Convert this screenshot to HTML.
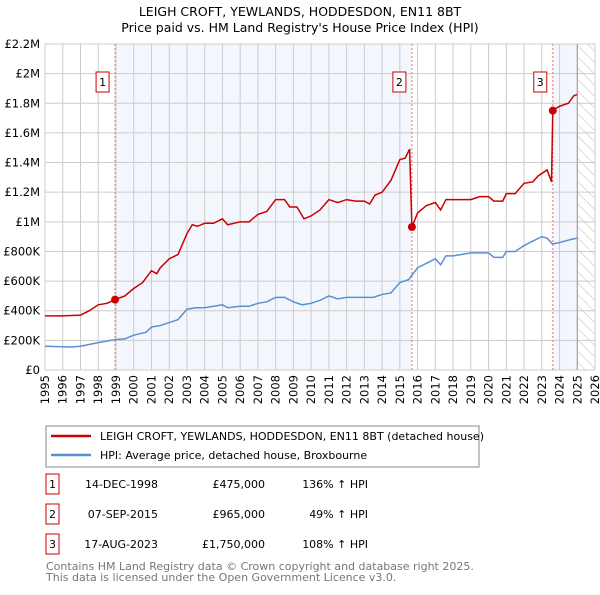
<!DOCTYPE html>
<html><head><meta charset="utf-8"><style>
body{margin:0;background:#fff;font-family:"Liberation Sans","DejaVu Sans",sans-serif;}
svg text{font-family:"DejaVu Sans","Liberation Sans",sans-serif;}
</style></head><body>
<svg id="chart" width="600" height="590" xmlns="http://www.w3.org/2000/svg">
<defs><pattern id="hatch" patternUnits="userSpaceOnUse" width="8" height="8" patternTransform="rotate(-45)"><line x1="0" y1="0" x2="0" y2="8" stroke="#bbb" stroke-width="1"/></pattern></defs>
<text x="300" y="16" text-anchor="middle" font-size="12.5">LEIGH CROFT, YEWLANDS, HODDESDON, EN11 8BT</text>
<text x="300" y="32" text-anchor="middle" font-size="12.5">Price paid vs. HM Land Registry's House Price Index (HPI)</text>
<g id="plot"></g>
<rect x="46" y="426" width="433" height="41" fill="#fff" stroke="#888"/>
<line x1="51" y1="436" x2="91" y2="436" stroke="#cc0000" stroke-width="2.5"/>
<text x="100" y="440" font-size="11">LEIGH CROFT, YEWLANDS, HODDESDON, EN11 8BT (detached house)</text>
<line x1="51" y1="455" x2="91" y2="455" stroke="#5b8fd4" stroke-width="2.5"/>
<text x="100" y="459" font-size="11">HPI: Average price, detached house, Broxbourne</text>
<g id="table" font-size="11"></g>
<text x="46" y="570" font-size="11" fill="#777">Contains HM Land Registry data © Crown copyright and database right 2025.</text>
<text x="46" y="581" font-size="11" fill="#777">This data is licensed under the Open Government Licence v3.0.</text>
</svg>
<script>
const yearTicks=[1995,1996,1997,1998,1999,2000,2001,2002,2003,2004,2005,2006,2007,2008,2009,2010,2011,2012,2013,2014,2015,2016,2017,2018,2019,2020,2021,2022,2023,2024,2025,2026];
const valueTicks=[0,200000,400000,600000,800000,1000000,1200000,1400000,1600000,1800000,2000000,2200000];
const valueTickLabels=["£0","£200K","£400K","£600K","£800K","£1M","£1.2M","£1.4M","£1.6M","£1.8M","£2M","£2.2M"];
const redYears=[1995,1996,1997,1997.5,1998,1998.5,1998.95,1999.5,2000,2000.5,2001,2001.3,2001.5,2002,2002.5,2003,2003.3,2003.6,2004,2004.5,2005,2005.3,2006,2006.5,2007,2007.5,2008,2008.5,2008.8,2009.2,2009.6,2010,2010.5,2011,2011.5,2012,2012.5,2013,2013.3,2013.6,2014,2014.5,2015,2015.3,2015.55,2015.68,2016,2016.5,2017,2017.3,2017.6,2018,2018.5,2019,2019.5,2020,2020.3,2020.8,2021,2021.5,2022,2022.5,2022.8,2023.3,2023.55,2023.62,2024,2024.5,2024.8,2025];
const redValues=[365,365,370,400,440,450,475,500,550,590,670,650,690,750,780,920,980,970,990,990,1020,980,1000,1000,1050,1070,1150,1150,1100,1100,1020,1040,1080,1150,1130,1150,1140,1140,1120,1180,1200,1280,1420,1430,1490,965,1060,1110,1130,1080,1150,1150,1150,1150,1170,1170,1140,1140,1190,1190,1260,1270,1310,1350,1270,1750,1780,1800,1850,1860];
const hpiYears=[1995,1996.5,1997,1998,1998.95,1999.5,2000,2000.7,2001,2001.5,2002,2002.5,2003,2003.5,2004,2005,2005.3,2006,2006.5,2007,2007.5,2008,2008.5,2009,2009.5,2010,2010.5,2011,2011.5,2012,2013,2013.5,2014,2014.5,2015,2015.5,2016,2016.5,2017,2017.3,2017.6,2018,2019,2020,2020.3,2020.8,2021,2021.5,2022,2022.5,2023,2023.3,2023.6,2024,2024.6,2025];
const hpiValues=[160,155,160,185,205,210,235,255,290,300,320,340,410,420,420,440,420,430,430,450,460,490,490,460,440,450,470,500,480,490,490,490,510,520,590,610,690,720,750,710,770,770,790,790,760,760,800,800,840,870,900,890,850,860,880,890];
const saleIds=["1","2","3"];
const saleYears=[1998.95,2015.68,2023.62];
const saleValues=[475000,965000,1750000];
const saleDates=["14-DEC-1998","07-SEP-2015","17-AUG-2023"];
const salePrices=["£475,000","£965,000","£1,750,000"];
const saleHpi=["136% ↑ HPI","49% ↑ HPI","108% ↑ HPI"];

const NS="http://www.w3.org/2000/svg";
const L=45,R=595,T=44,B=370;
const x=y=>L+(y-1995)/(2026-1995)*(R-L);
const yv=v=>B-v/2200000*(B-T);
const plot=document.getElementById('plot');
function mk(tag,attrs,parent){const e=document.createElementNS(NS,tag);for(const k in attrs)e.setAttribute(k,attrs[k]);(parent||plot).appendChild(e);return e;}
let e;
e=mk('rect',{x:L,y:T,width:R-L,height:B-T,fill:'#fff'});


e=mk('rect',{x:x(saleYears[0]),y:T,width:x(saleYears[1])-x(saleYears[0]),height:B-T,fill:'#f3f7fd'});


e=mk('rect',{x:x(saleYears[2]),y:T,width:x(2025)-x(saleYears[2]),height:B-T,fill:'#f3f7fd'});


e=mk('rect',{x:x(2025),y:T,width:x(2026)-x(2025),height:B-T,fill:'url(#hatch)'});


yearTicks.forEach(yr=>{
 e=mk('line',{x1:x(yr),x2:x(yr),y1:T,y2:B,stroke:'#ccc','stroke-width':1});
 
 
 const tx=x(yr)+4, ty=B+5;
 e=mk('text',{x:tx,y:ty,'text-anchor':'end','font-size':11.5,transform:'rotate(-90 '+tx+' '+ty+')'});
 e.textContent=yr;
 
 
});
valueTicks.forEach((v,i)=>{
 e=mk('line',{x1:L,x2:R,y1:yv(v),y2:yv(v),stroke:'#ccc','stroke-width':1});
 
 
 e=mk('text',{x:L-5,y:yv(v)+4,'text-anchor':'end','font-size':11.5});
 e.textContent=valueTickLabels[i];
 
 
});
e=mk('line',{x1:x(2025),x2:x(2025),y1:T,y2:B,stroke:'#999','stroke-width':1});


saleYears.forEach((sy,i)=>{
 e=mk('line',{x1:x(sy),x2:x(sy),y1:T,y2:B,stroke:'#f07070','stroke-width':1,'stroke-dasharray':'2,2'});
 
 
 e=mk('rect',{x:x(sy)-19,y:72,width:13,height:20,fill:'#fff',stroke:'#cc0000'});
 
 
 e=mk('text',{x:x(sy)-12.5,y:86,'text-anchor':'middle','font-size':11});
 e.textContent=saleIds[i];
 
 
});
e=mk('polyline',{points:hpiYears.map((yr,i)=>x(yr)+','+yv(hpiValues[i]*1000)).join(' '),fill:'none',stroke:'#5b8fd4','stroke-width':1.5});


e=mk('polyline',{points:redYears.map((yr,i)=>x(yr)+','+yv(redValues[i]*1000)).join(' '),fill:'none',stroke:'#cc0000','stroke-width':1.5});


saleYears.forEach((sy,i)=>{
 e=mk('circle',{cx:x(sy),cy:yv(saleValues[i]),r:4,fill:'#cc0000'});
 
 
});
const tbl=document.getElementById('table');
saleIds.forEach((id,i)=>{
 const cy=487+i*30;
 e=mk('rect',{x:46,y:cy-13,width:13,height:20,fill:'#fff',stroke:'#cc0000'},tbl);
 
 
 const cells=[[52.5,'middle',id],[158,'end',saleDates[i]],[265,'end',salePrices[i]],[368,'end',saleHpi[i]]];
 cells.forEach(c=>{
  e=mk('text',{x:c[0],y:cy+1,'text-anchor':c[1]},tbl);
  e.textContent=c[2];
  
  
 });
});
</script>
</body></html>
